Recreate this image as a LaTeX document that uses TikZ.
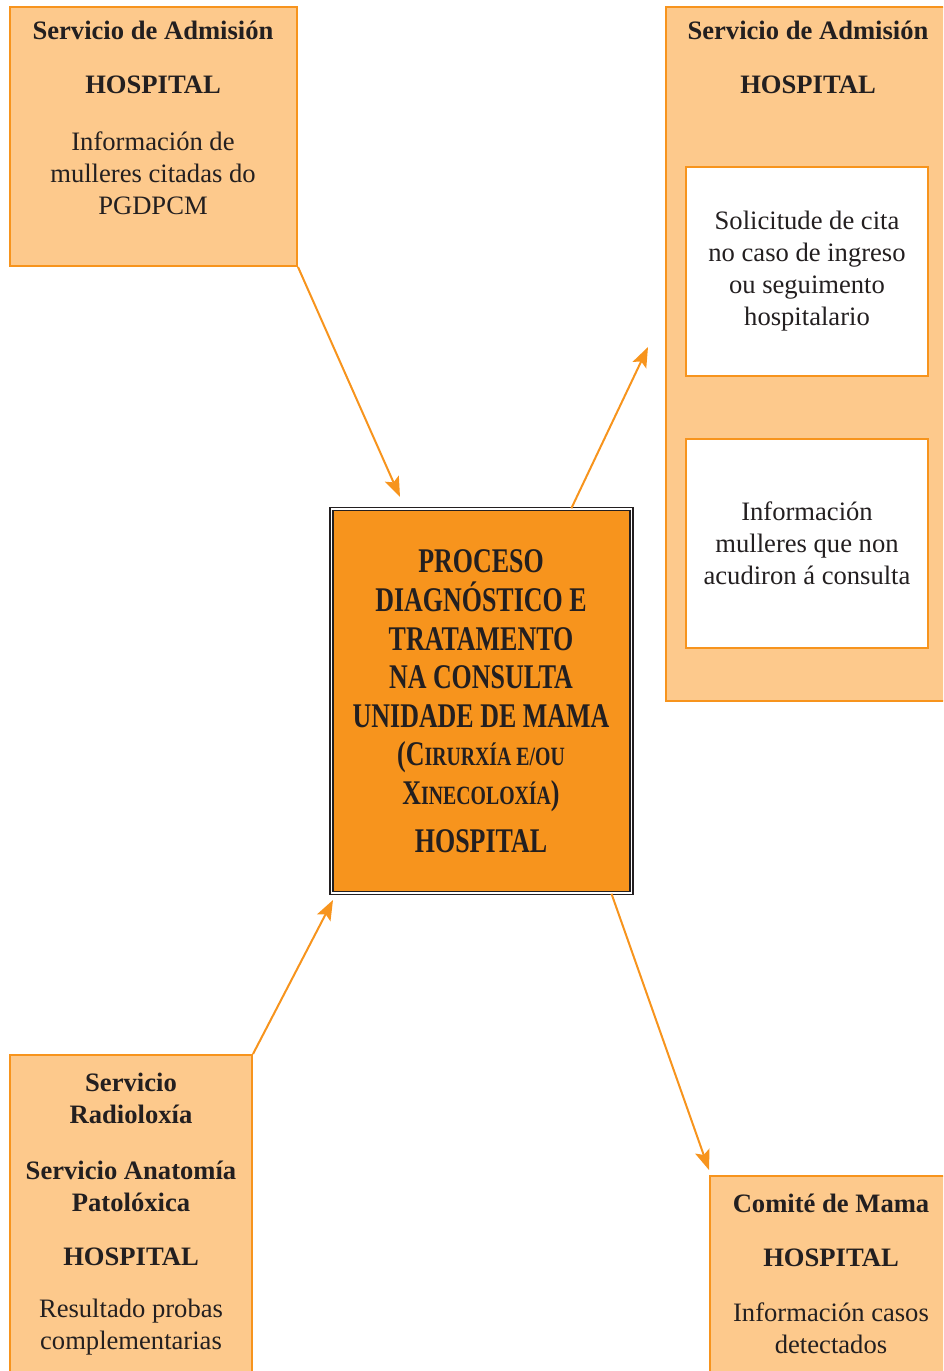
\documentclass[tikz,border=0pt]{standalone}
\usepackage{fontspec}
\setmainfont{Liberation Serif}
\newfontfamily\condfont[FakeStretch=0.75]{Liberation Serif}
\usetikzlibrary{arrows.meta}

\definecolor{boxorange}{HTML}{FDC98C}
\definecolor{lineorange}{HTML}{F7941D}
\definecolor{procorange}{HTML}{F7941D}
\definecolor{textdark}{HTML}{231F20}

\tikzset{
  servbox/.style={draw=lineorange, fill=boxorange, line width=1pt, inner sep=0pt},
  infobox/.style={draw=lineorange, fill=white, line width=1pt, inner sep=0pt},
  procbox/.style={fill=procorange, draw=textdark, line width=0.7pt,
    double=white, double distance=0.9pt, inner sep=0pt},
  txt/.style={text=textdark, align=center, inner sep=0pt,
    font=\fontsize{13.3}{16}\selectfont},
  head/.style={txt, font=\fontsize{13.3}{16}\selectfont\bfseries},
  proctxt/.style={text=textdark, align=center, inner sep=0pt,
    font=\condfont\bfseries\fontsize{17.3}{19.3}\selectfont},
  flow/.style={draw=lineorange, line width=1pt,
    -{Stealth[length=10pt, width=7.5pt, inset=2pt]}},
}
\newcommand\smc[1]{{\fontsize{13.2}{19.3}\selectfont #1}}

\begin{document}
\begin{tikzpicture}[x=0.5pt, y=-0.5pt]
    \useasboundingbox (0,0) rectangle (943,1371);
    \clip (0,0) rectangle (943,1371);

    % Servicio de Admisión (arriba esquerda)
    \node[servbox, minimum width=143.5pt, minimum height=129.5pt] (adm1) at (153.5,136.5) {};
    \node[head] (adm1-serv) at (153,30) {Servicio de Admisión};
    \node[head] (adm1-hosp) at (153,85) {HOSPITAL};
    \node[txt] (adm1-info) at (153,173) {Información de\\mulleres citadas do\\PGDPCM};

    % Servicio de Admisión (arriba dereita)
    \node[servbox, minimum width=147pt, minimum height=347pt] (adm2) at (813,354) {};
    \node[head] (adm2-serv) at (808,30) {Servicio de Admisión};
    \node[head] (adm2-hosp) at (808,85) {HOSPITAL};
    \node[infobox, minimum width=121pt, minimum height=104.5pt] (cita) at (807,271.5) {};
    \node[txt] (cita-txt) at (807,271) {Solicitude de cita\\no caso de ingreso\\ou seguimento\\hospitalario};
    \node[infobox, minimum width=121pt, minimum height=104.5pt] (falta) at (807,543.5) {};
    \node[txt] (falta-txt) at (807,543) {Información\\mulleres que non\\acudiron á consulta};

    % Proceso central
    \node[procbox, minimum width=150pt, minimum height=192pt] (proc) at (481.5,701) {};
    \node[proctxt] (proc-txt) at (481,681) {PROCESO\\DIAGNÓSTICO E\\TRATAMENTO\\NA CONSULTA\\UNIDADE DE MAMA\\(C\smc{IRURXÍA E/OU}\\X\smc{INECOLOXÍA})};
    \node[proctxt] (proc-hosp) at (481,841) {HOSPITAL};

    % Radioloxía e Anatomía Patolóxica
    \node[servbox, minimum width=121pt, minimum height=172.5pt] (rad) at (131,1227.5) {};
    \node[head] (rad-serv) at (131,1098) {Servicio\\Radioloxía};
    \node[head] (rad-anat) at (131,1186) {Servicio Anatomía\\Patolóxica};
    \node[head] (rad-hosp) at (131,1257) {HOSPITAL};
    \node[txt] (rad-info) at (131,1327) {Resultado probas\\complementarias};

    % Comité de Mama
    \node[servbox, minimum width=125pt, minimum height=112pt] (comite) at (835,1288) {};
    \node[head] (comite-nome) at (831,1203) {Comité de Mama};
    \node[head] (comite-hosp) at (831,1258) {HOSPITAL};
    \node[txt] (comite-info) at (831,1328) {Información casos\\detectados};

    % puntas das frechas
    \coordinate (tip1) at (400,497);
    \coordinate (tip2) at (648,347);
    \coordinate (tip3) at (333,900);
    \coordinate (tip4) at (709,1170);

    % frechas
    \draw[flow] (adm1.south east) -- (tip1);
    \draw[flow] (proc.65.5) -- (tip2);
    \draw[flow] (rad.north east) -- (tip3);
    \draw[flow] (proc.-56) -- (tip4);
\end{tikzpicture}
\end{document}
